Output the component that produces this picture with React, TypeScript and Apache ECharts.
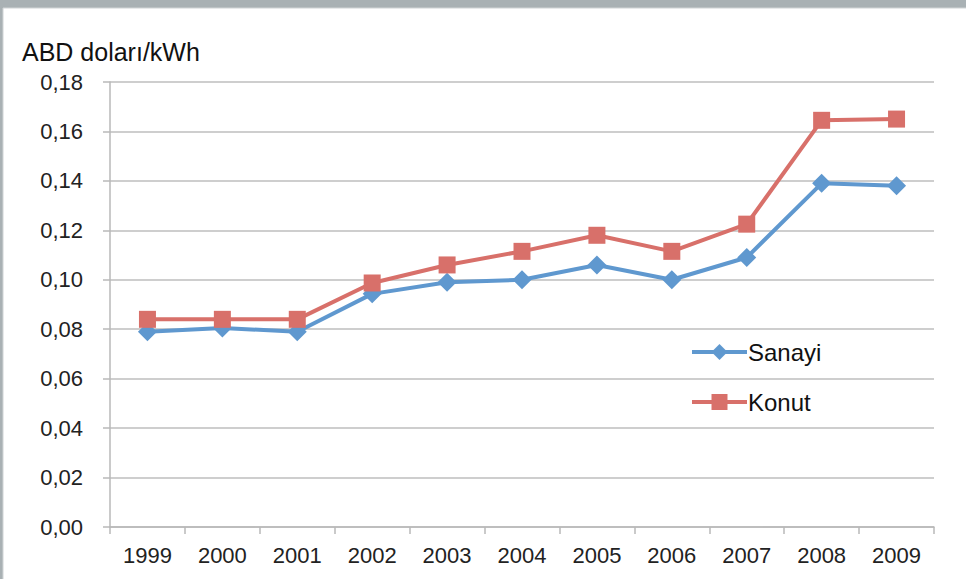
import React, { useEffect, useRef } from "react";
import * as echarts from "echarts";

const years = ["1999", "2000", "2001", "2002", "2003", "2004", "2005", "2006", "2007", "2008", "2009"];
const sanayi = [0.079, 0.0805, 0.079, 0.0943, 0.099, 0.1, 0.106, 0.1, 0.109, 0.139, 0.138];
const konut = [0.084, 0.084, 0.084, 0.0987, 0.106, 0.1115, 0.118, 0.1115, 0.1225, 0.1645, 0.165];
const unitLabel = "ABD doları/kWh";

export default function App() {
  const ref = useRef<HTMLDivElement>(null);
  useEffect(() => {
    if (!ref.current) return;
    const chart = echarts.init(ref.current, undefined, { renderer: "svg" });
    const labelFont = "Liberation Sans";
    chart.setOption({
      animation: false,
      backgroundColor: "#A9B1B4",
      graphic: [
        {
          type: "rect",
          shape: { x: 3, y: 8, width: 966, height: 580 },
          style: { fill: "#ffffff", stroke: "#D0D4D6", lineWidth: 1 },
          z: -10,
        },
        {
          type: "text",
          left: 22,
          top: 39,
          style: { text: unitLabel, font: `25px "Liberation Sans", sans-serif`, fill: "#111" },
        },
      ],
      grid: { left: 110, right: 32, top: 82, bottom: 52 },
      legend: {
        orient: "vertical",
        left: 685,
        top: 335,
        itemWidth: 55,
        itemHeight: 20,
        itemGap: 26,
        lineStyle: { width: 4 },
        textStyle: { fontFamily: labelFont, fontSize: 24, color: "#111", padding: [0, 0, 0, -4] },
        data: ["Sanayi", "Konut"],
      },
      xAxis: {
        type: "category",
        data: years,
        boundaryGap: true,
        axisLine: { lineStyle: { color: "#B8B8B8", width: 1.5 } },
        axisTick: { show: true, length: 7, alignWithLabel: false, lineStyle: { color: "#B8B8B8", width: 1.5 } },
        axisLabel: { fontFamily: labelFont, fontSize: 22, color: "#222", margin: 17 },
      },
      yAxis: {
        type: "value",
        min: 0,
        max: 0.18,
        interval: 0.02,
        axisLine: { show: true, lineStyle: { color: "#B8B8B8", width: 1.5 } },
        axisTick: { show: true, length: 7, lineStyle: { color: "#B8B8B8", width: 1.5 } },
        splitLine: { lineStyle: { color: "#BEBEBE", width: 1.5 } },
        axisLabel: {
          fontFamily: labelFont,
          fontSize: 22,
          color: "#222",
          margin: 27,
          formatter: (v: number) => v.toFixed(2).replace(".", ","),
        },
      },
      series: [
        {
          name: "Sanayi",
          type: "line",
          data: sanayi,
          symbol: "diamond",
          symbolSize: 19,
          lineStyle: { color: "#5F98CF", width: 4 },
          itemStyle: { color: "#5F98CF" },
        },
        {
          name: "Konut",
          type: "line",
          data: konut,
          symbol: "rect",
          symbolSize: 17,
          lineStyle: { color: "#D8706A", width: 4 },
          itemStyle: { color: "#D8706A" },
        },
      ],
    });
    return () => chart.dispose();
  }, []);
  return (
    <div style={{ position: "fixed", left: 0, top: 0, width: 966, height: 579 }}>
      <div ref={ref} style={{ width: 966, height: 579 }} />
    </div>
  );
}
